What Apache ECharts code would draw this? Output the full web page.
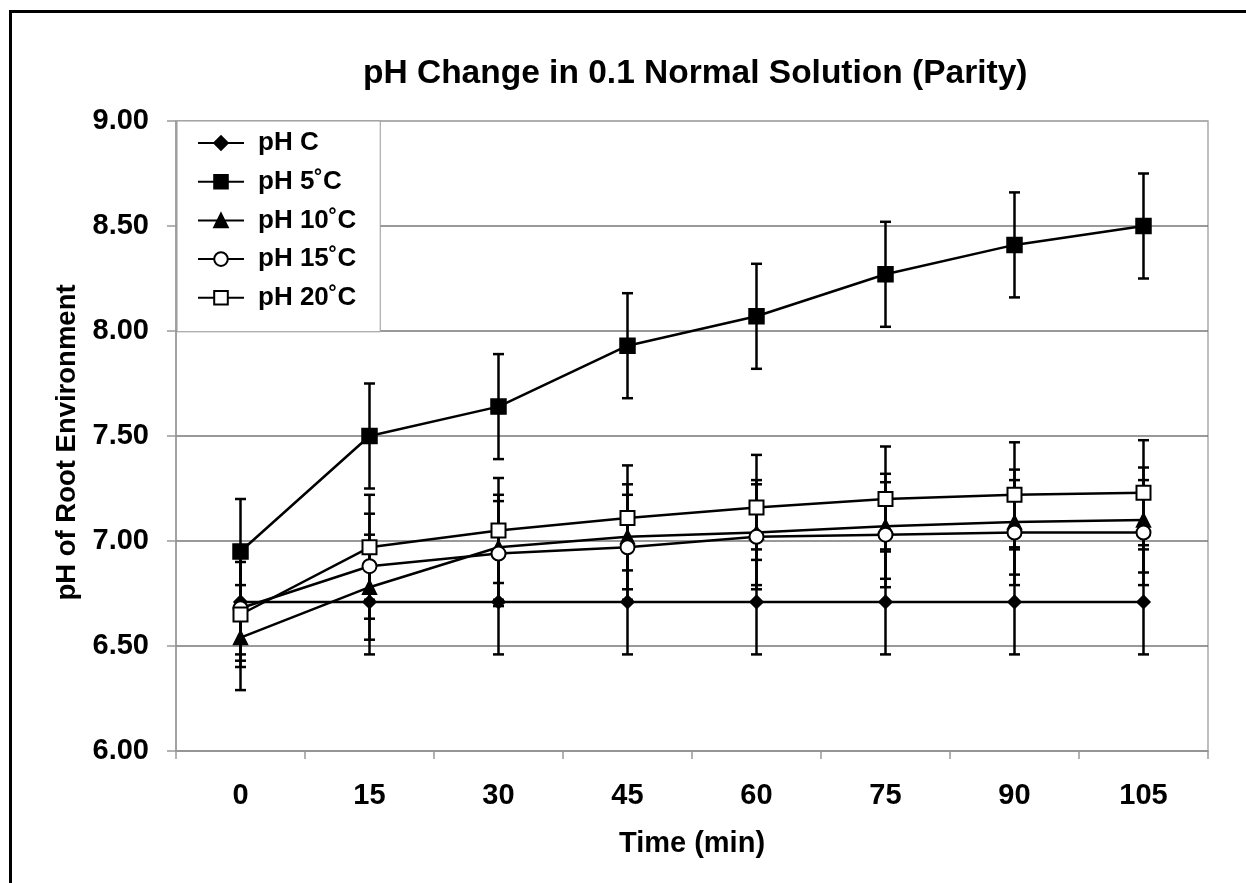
<!DOCTYPE html>
<html>
<head>
<meta charset="utf-8">
<script src="https://cdn.jsdelivr.net/npm/echarts@6/dist/echarts.min.js"></script>
<style>
  html, body { margin: 0; padding: 0; background: #fff; }
  #wrap { position: relative; width: 1246px; height: 883px; overflow: hidden; }
  #chart { position: absolute; left: 0; top: 0; width: 1246px; height: 883px; }
  #frame { position: absolute; left: 9px; top: 10px; width: 1300px; height: 1000px;
           border-left: 3px solid #000; border-top: 3px solid #000; pointer-events: none; }
</style>
</head>
<body>
<div id="wrap">
  <div id="chart"></div>
  <div id="frame"></div>
</div>
<script>
// ---- data ----
var times = ['0', '15', '30', '45', '60', '75', '90', '105'];
var yTicks = [6.0, 6.5, 7.0, 7.5, 8.0, 8.5, 9.0];
var seriesNames = ['pH C', 'pH 5˚C', 'pH 10˚C', 'pH 15˚C', 'pH 20˚C'];
var phC  = [6.71, 6.71, 6.71, 6.71, 6.71, 6.71, 6.71, 6.71];
var ph5  = [6.95, 7.50, 7.64, 7.93, 8.07, 8.27, 8.41, 8.50];
var ph10 = [6.54, 6.78, 6.97, 7.02, 7.04, 7.07, 7.09, 7.10];
var ph15 = [6.68, 6.88, 6.94, 6.97, 7.02, 7.03, 7.04, 7.04];
var ph20 = [6.65, 6.97, 7.05, 7.11, 7.16, 7.20, 7.22, 7.23];
var errC  = [0.25, 0.25, 0.25, 0.25, 0.25, 0.25, 0.25, 0.25];
var err5  = [0.25, 0.25, 0.25, 0.25, 0.25, 0.25, 0.25, 0.25];
var err10 = [0.25, 0.25, 0.25, 0.25, 0.25, 0.25, 0.25, 0.25];
var err15 = [0.25, 0.25, 0.25, 0.25, 0.25, 0.25, 0.25, 0.25];
var err20 = [0.25, 0.25, 0.25, 0.25, 0.25, 0.25, 0.25, 0.25];

var values = [phC, ph5, ph10, ph15, ph20];
var errors = [errC, err5, err10, err15, err20];
var symbols = ['diamond', 'rect', 'triangle', 'emptyCircle', 'emptyRect'];
var symbolSizes = [13, 15, 14, 14, 14];

var FONT = '"Liberation Sans", Arial, sans-serif';

function errorRender(params, api) {
  var x = api.value(0);
  var lo = api.coord([x, api.value(1)]);
  var hi = api.coord([x, api.value(2)]);
  var hw = 5.5;
  var st = { stroke: '#000', lineWidth: 2.5 };
  return {
    type: 'group',
    children: [
      { type: 'line', shape: { x1: lo[0], y1: lo[1], x2: hi[0], y2: hi[1] }, style: st },
      { type: 'line', shape: { x1: lo[0] - hw, y1: lo[1], x2: lo[0] + hw, y2: lo[1] }, style: st },
      { type: 'line', shape: { x1: hi[0] - hw, y1: hi[1], x2: hi[0] + hw, y2: hi[1] }, style: st }
    ]
  };
}

var series = [];
values.forEach(function (vals, si) {
  series.push({
    name: seriesNames[si] + ' err',
    type: 'custom',
    renderItem: errorRender,
    encode: { x: 0, y: [1, 2] },
    data: vals.map(function (v, i) { return [i, v - errors[si][i], v + errors[si][i]]; }),
    z: 2,
    silent: true
  });
});
values.forEach(function (vals, si) {
  series.push({
    name: seriesNames[si],
    type: 'line',
    data: vals,
    symbol: symbols[si],
    symbolSize: symbolSizes[si],
    showAllSymbol: true,
    lineStyle: { color: '#000', width: 2.5 },
    itemStyle: { color: '#000', borderColor: '#000', borderWidth: 1.5 },
    z: 3,
    animation: false
  });
});

var chart = echarts.init(document.getElementById('chart'), null, { renderer: 'canvas' });
chart.setOption({
  animation: false,
  backgroundColor: '#fff',
  title: {
    text: 'pH Change in 0.1 Normal Solution (Parity)',
    left: 363,
    top: 57,
    padding: 0,
    textStyle: { fontFamily: FONT, fontWeight: 'bold', fontSize: 33.5, color: '#000' }
  },
  legend: {
    orient: 'vertical',
    left: 177,
    top: 121,
    data: seriesNames,
    itemWidth: 46,
    itemHeight: 17,
    itemGap: 12.7,
    padding: [9, 24, 21, 20],
    borderColor: '#999',
    borderWidth: 1,
    backgroundColor: '#fff',
    textStyle: { fontFamily: FONT, fontWeight: 'bold', fontSize: 26, color: '#000', lineHeight: 26, padding: [0, 0, 0, 9] }
  },
  grid: {
    left: 176, right: 38, top: 121, bottom: 132,
    show: true, borderColor: '#aaa', borderWidth: 1.5, backgroundColor: 'transparent'
  },
  xAxis: {
    type: 'category',
    data: times,
    boundaryGap: true,
    name: 'Time (min)',
    nameLocation: 'middle',
    nameGap: 78,
    nameMoveOverlap: false,
    nameTextStyle: { fontFamily: FONT, fontWeight: 'bold', fontSize: 29, color: '#000' },
    axisLine: { lineStyle: { color: '#999', width: 1.5 } },
    axisTick: { show: true, alignWithLabel: false, length: 8, lineStyle: { color: '#999', width: 1.5 } },
    axisLabel: { margin: 30, fontFamily: FONT, fontWeight: 'bold', fontSize: 29, color: '#000' },
    splitLine: { show: false }
  },
  yAxis: {
    type: 'value',
    min: yTicks[0],
    max: yTicks[yTicks.length - 1],
    interval: 0.5,
    name: 'pH of Root Environment',
    nameLocation: 'middle',
    nameRotate: 90,
    nameGap: 95,
    nameMoveOverlap: false,
    nameTextStyle: { fontFamily: FONT, fontWeight: 'bold', fontSize: 27.5, color: '#000', padding: [0, 13, 0, 0] },
    axisLine: { show: true, lineStyle: { color: '#999', width: 1.5 } },
    axisTick: { show: true, inside: false, length: 9, lineStyle: { color: '#999', width: 1.5 } },
    axisLabel: {
      margin: 27, fontFamily: FONT, fontWeight: 'bold', fontSize: 29, color: '#000',
      formatter: function (v) { return v.toFixed(2); }
    },
    splitLine: { show: true, lineStyle: { color: ['#777', '#777', '#777', '#777', '#777', '#777', '#aaa'], width: 1.5 } }
  },
  series: series
});
</script>
</body>
</html>
